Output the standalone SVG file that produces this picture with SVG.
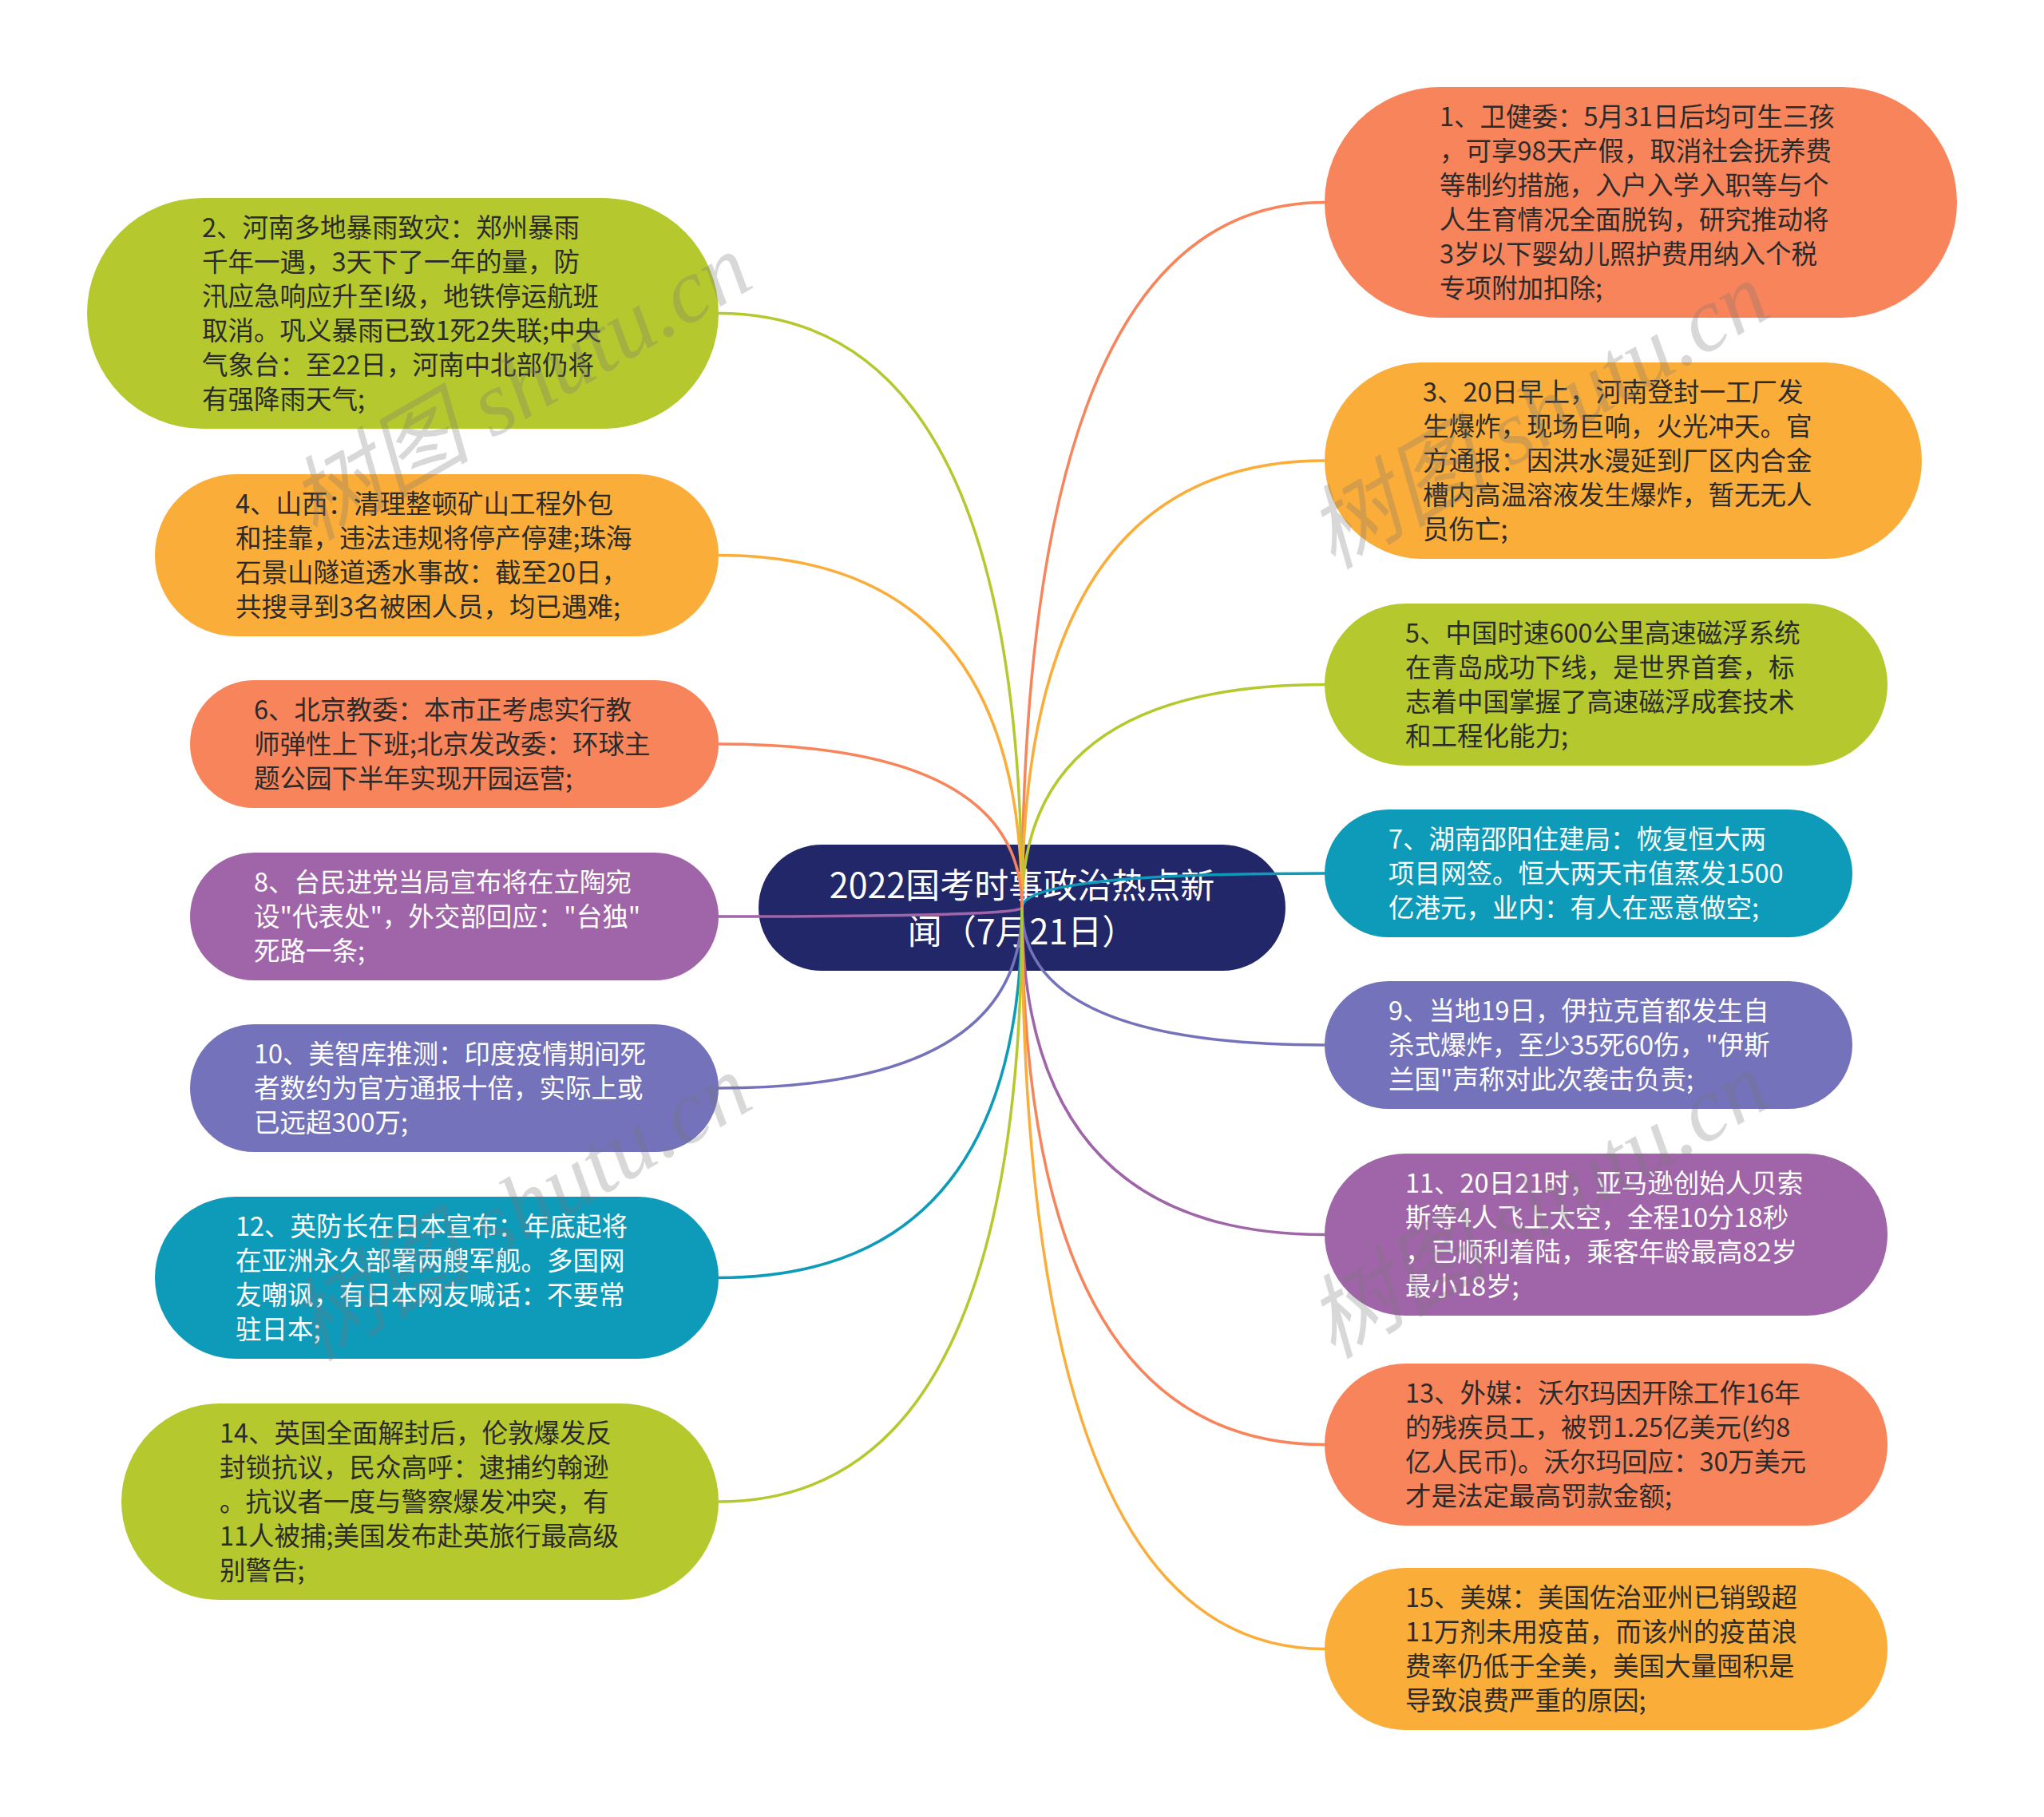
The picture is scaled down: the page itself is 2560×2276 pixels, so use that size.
<svg xmlns="http://www.w3.org/2000/svg" width="2560" height="2276" viewBox="0 0 2560 2276">
<style>
.t{font-family:"Noto Sans CJK SC","Noto Sans",sans-serif;font-size:32.5px}
.dk{fill:#2b2b2b}
.wt{fill:#ffffff}
.c{fill:none;stroke-width:3.5}
.or{fill:#f7845a}.ye{fill:#fbad39}.gr{fill:#b5c92f}.te{fill:#0e9bba}.bp{fill:#7472bb}.pu{fill:#a065a8}
.sor{stroke:#f7845a}.sye{stroke:#fbad39}.sgr{stroke:#b5c92f}.ste{stroke:#0e9bba}.sbp{stroke:#7472bb}.spu{stroke:#a065a8}
.wm{font-family:"Liberation Serif","Noto Sans CJK SC",serif;font-style:italic;font-size:114px;fill:#777;opacity:0.28}
.ct{font-family:"Noto Sans CJK SC","Noto Sans",sans-serif;font-size:43px;fill:#ffffff}
</style>
<rect width="2560" height="2276" fill="#ffffff"/>
<g id="center">
<rect x="950" y="1058" width="660" height="158" rx="79" fill="#212768"/>
<text class="ct" x="1280" y="1125" text-anchor="middle">2022国考时事政治热点新</text>
<text class="ct" x="1280" y="1183" text-anchor="middle">闻（7月21日）</text>
</g>
<g id="n1"><rect class="or" x="1659" y="109" width="792" height="289" rx="144.5"/>
<text class="t dk"><tspan x="1803" y="158">1、卫健委：5月31日后均可生三孩</tspan><tspan x="1803" y="201">，可享98天产假，取消社会抚养费</tspan><tspan x="1803" y="244">等制约措施，入户入学入职等与个</tspan><tspan x="1803" y="287">人生育情况全面脱钩，研究推动将</tspan><tspan x="1803" y="330">3岁以下婴幼儿照护费用纳入个税</tspan><tspan x="1803" y="373">专项附加扣除;</tspan></text></g>
<g id="n3"><rect class="ye" x="1659" y="454" width="748" height="246" rx="123"/>
<text class="t dk"><tspan x="1782" y="503">3、20日早上，河南登封一工厂发</tspan><tspan x="1782" y="546">生爆炸，现场巨响，火光冲天。官</tspan><tspan x="1782" y="589">方通报：因洪水漫延到厂区内合金</tspan><tspan x="1782" y="632">槽内高温溶液发生爆炸，暂无无人</tspan><tspan x="1782" y="675">员伤亡;</tspan></text></g>
<g id="n5"><rect class="gr" x="1659" y="756" width="705" height="203" rx="101.5"/>
<text class="t dk"><tspan x="1760" y="805">5、中国时速600公里高速磁浮系统</tspan><tspan x="1760" y="848">在青岛成功下线，是世界首套，标</tspan><tspan x="1760" y="891">志着中国掌握了高速磁浮成套技术</tspan><tspan x="1760" y="934">和工程化能力;</tspan></text></g>
<g id="n7"><rect class="te" x="1659" y="1014" width="661" height="160" rx="80"/>
<text class="t wt"><tspan x="1739" y="1063">7、湖南邵阳住建局：恢复恒大两</tspan><tspan x="1739" y="1106">项目网签。恒大两天市值蒸发1500</tspan><tspan x="1739" y="1149">亿港元，业内：有人在恶意做空;</tspan></text></g>
<g id="n9"><rect class="bp" x="1659" y="1229" width="661" height="160" rx="80"/>
<text class="t wt"><tspan x="1739" y="1278">9、当地19日，伊拉克首都发生自</tspan><tspan x="1739" y="1321">杀式爆炸，至少35死60伤，"伊斯</tspan><tspan x="1739" y="1364">兰国"声称对此次袭击负责;</tspan></text></g>
<g id="n11"><rect class="pu" x="1659" y="1445" width="705" height="203" rx="101.5"/>
<text class="t wt"><tspan x="1760" y="1494">11、20日21时，亚马逊创始人贝索</tspan><tspan x="1760" y="1537">斯等4人飞上太空，全程10分18秒</tspan><tspan x="1760" y="1580">，已顺利着陆，乘客年龄最高82岁</tspan><tspan x="1760" y="1623">最小18岁;</tspan></text></g>
<g id="n13"><rect class="or" x="1659" y="1708" width="705" height="203" rx="101.5"/>
<text class="t dk"><tspan x="1760" y="1757">13、外媒：沃尔玛因开除工作16年</tspan><tspan x="1760" y="1800">的残疾员工，被罚1.25亿美元(约8</tspan><tspan x="1760" y="1843">亿人民币)。沃尔玛回应：30万美元</tspan><tspan x="1760" y="1886">才是法定最高罚款金额;</tspan></text></g>
<g id="n15"><rect class="ye" x="1659" y="1964" width="705" height="203" rx="101.5"/>
<text class="t dk"><tspan x="1760" y="2013">15、美媒：美国佐治亚州已销毁超</tspan><tspan x="1760" y="2056">11万剂未用疫苗，而该州的疫苗浪</tspan><tspan x="1760" y="2099">费率仍低于全美，美国大量囤积是</tspan><tspan x="1760" y="2142">导致浪费严重的原因;</tspan></text></g>
<g id="n2"><rect class="gr" x="109" y="248" width="791" height="289" rx="144.5"/>
<text class="t dk"><tspan x="253" y="297">2、河南多地暴雨致灾：郑州暴雨</tspan><tspan x="253" y="340">千年一遇，3天下了一年的量，防</tspan><tspan x="253" y="383">汛应急响应升至I级，地铁停运航班</tspan><tspan x="253" y="426">取消。巩义暴雨已致1死2失联;中央</tspan><tspan x="253" y="469">气象台：至22日，河南中北部仍将</tspan><tspan x="253" y="512">有强降雨天气;</tspan></text></g>
<g id="n4"><rect class="ye" x="194" y="594" width="706" height="203" rx="101.5"/>
<text class="t dk"><tspan x="295" y="643">4、山西：清理整顿矿山工程外包</tspan><tspan x="295" y="686">和挂靠，违法违规将停产停建;珠海</tspan><tspan x="295" y="729">石景山隧道透水事故：截至20日，</tspan><tspan x="295" y="772">共搜寻到3名被困人员，均已遇难;</tspan></text></g>
<g id="n6"><rect class="or" x="238" y="852" width="662" height="160" rx="80"/>
<text class="t dk"><tspan x="318" y="901">6、北京教委：本市正考虑实行教</tspan><tspan x="318" y="944">师弹性上下班;北京发改委：环球主</tspan><tspan x="318" y="987">题公园下半年实现开园运营;</tspan></text></g>
<g id="n8"><rect class="pu" x="238" y="1068" width="662" height="160" rx="80"/>
<text class="t wt"><tspan x="318" y="1117">8、台民进党当局宣布将在立陶宛</tspan><tspan x="318" y="1160">设"代表处"，外交部回应："台独"</tspan><tspan x="318" y="1203">死路一条;</tspan></text></g>
<g id="n10"><rect class="bp" x="238" y="1283" width="662" height="160" rx="80"/>
<text class="t wt"><tspan x="318" y="1332">10、美智库推测：印度疫情期间死</tspan><tspan x="318" y="1375">者数约为官方通报十倍，实际上或</tspan><tspan x="318" y="1418">已远超300万;</tspan></text></g>
<g id="n12"><rect class="te" x="194" y="1499" width="706" height="203" rx="101.5"/>
<text class="t wt"><tspan x="295" y="1548">12、英防长在日本宣布：年底起将</tspan><tspan x="295" y="1591">在亚洲永久部署两艘军舰。多国网</tspan><tspan x="295" y="1634">友嘲讽，有日本网友喊话：不要常</tspan><tspan x="295" y="1677">驻日本;</tspan></text></g>
<g id="n14"><rect class="gr" x="152" y="1758" width="748" height="246" rx="123"/>
<text class="t dk"><tspan x="275" y="1807">14、英国全面解封后，伦敦爆发反</tspan><tspan x="275" y="1850">封锁抗议，民众高呼：逮捕约翰逊</tspan><tspan x="275" y="1893">。抗议者一度与警察爆发冲突，有</tspan><tspan x="275" y="1936">11人被捕;美国发布赴英旅行最高级</tspan><tspan x="275" y="1979">别警告;</tspan></text></g>
<g id="connectors">
<path class="c sor" d="M1280,1137 Q1280,253.5 1659,253.5"/>
<path class="c sye" d="M1280,1137 Q1280,577 1659,577"/>
<path class="c sgr" d="M1280,1137 Q1280,857.5 1659,857.5"/>
<path class="c ste" d="M1280,1137 Q1280,1094 1659,1094"/>
<path class="c sbp" d="M1280,1137 Q1280,1309 1659,1309"/>
<path class="c spu" d="M1280,1137 Q1280,1546.5 1659,1546.5"/>
<path class="c sor" d="M1280,1137 Q1280,1809.5 1659,1809.5"/>
<path class="c sye" d="M1280,1137 Q1280,2065.5 1659,2065.5"/>
<path class="c sgr" d="M1280,1137 Q1280,392.5 900,392.5"/>
<path class="c sye" d="M1280,1137 Q1280,695.5 900,695.5"/>
<path class="c sor" d="M1280,1137 Q1280,932 900,932"/>
<path class="c spu" d="M1280,1137 Q1280,1148 900,1148"/>
<path class="c sbp" d="M1280,1137 Q1280,1363 900,1363"/>
<path class="c ste" d="M1280,1137 Q1280,1600.5 900,1600.5"/>
<path class="c sgr" d="M1280,1137 Q1280,1881 900,1881"/>
</g>
<g id="watermarks">
<text class="wm" x="655" y="522" text-anchor="middle" transform="rotate(-30 655 490)">树图 shutu.cn</text>
<text class="wm" x="1930" y="558" text-anchor="middle" transform="rotate(-30 1930 526)">树图 shutu.cn</text>
<text class="wm" x="655" y="1550" text-anchor="middle" transform="rotate(-30 655 1518)">树图 shutu.cn</text>
<text class="wm" x="1930" y="1547" text-anchor="middle" transform="rotate(-30 1930 1515)">树图 shutu.cn</text>
</g>
</svg>
